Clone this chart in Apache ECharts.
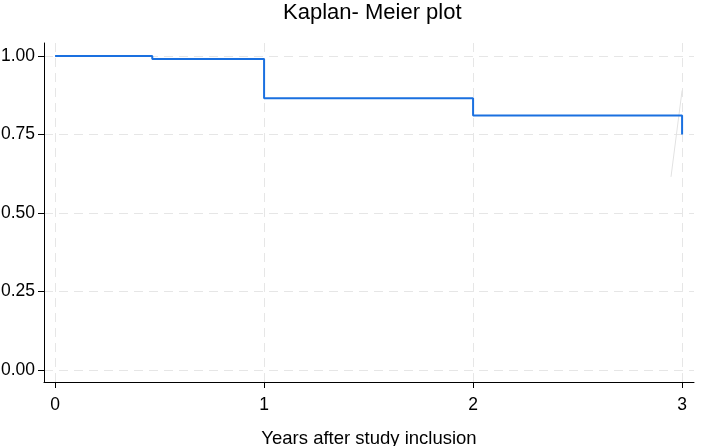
<!DOCTYPE html>
<html>
<head>
<meta charset="utf-8">
<script src="https://cdn.jsdelivr.net/npm/echarts@6/dist/echarts.min.js"></script>
<style>
  html, body { margin: 0; padding: 0; background: #fff; }
  #chart { width: 710px; height: 446px; }
</style>
</head>
<body>
<div id="chart"></div>
<script>
'use strict';
/* Kaplan-Meier survival curve */

var stepTimes = [0, 0.465, 1, 2, 3];
var survival = [1.0, 0.99, 0.865, 0.81, 0.75];
var xTicks = [0, 1, 2, 3];
var yTicks = [0, 0.25, 0.5, 0.75, 1];
// faint stray stroke near the last step in the original picture
var strayX = [2.947, 3.0];
var strayY = [0.615, 0.89];

var kmData = stepTimes.map(function(t, i) { return [t, survival[i]]; });
var strayData = strayX.map(function(t, i) { return [t, strayY[i]]; });

var font = 'Liberation Sans, Arial, sans-serif';
var gridStyle = { color: '#e6e6e6', width: 1, type: [9, 6] };

var chart = echarts.init(document.getElementById('chart'));
chart.setOption({
  animation: false,
  title: {
    text: 'Kaplan- Meier plot',
    left: 278,
    top: -3,
    textStyle: { fontFamily: font, fontSize: 22, fontWeight: 'normal', color: '#000' }
  },
  grid: { left: 44, right: 16, top: 43, bottom: 64, outerBoundsMode: 'none', containLabel: false },
  xAxis: {
    type: 'value',
    min: -0.053,
    max: 3.057,
    name: 'Years after study inclusion',
    nameLocation: 'middle',
    nameGap: 47,
    nameTextStyle: { fontFamily: font, fontSize: 18.5, color: '#000' },
    axisLine: { show: true, onZero: false, lineStyle: { color: '#000', width: 1 } },
    axisTick: { show: true, length: 6, customValues: xTicks, lineStyle: { color: '#000' } },
    axisLabel: {
      customValues: xTicks,
      margin: 14,
      fontFamily: font,
      fontSize: 17.5,
      color: '#000'
    },
    splitLine: { show: true, lineStyle: gridStyle }
  },
  yAxis: {
    type: 'value',
    min: -0.038,
    max: 1.041,
    axisLine: { show: true, onZero: false, lineStyle: { color: '#000', width: 1 } },
    axisTick: { show: true, length: 6, customValues: yTicks, lineStyle: { color: '#000' } },
    axisLabel: {
      customValues: yTicks,
      margin: 9,
      fontFamily: font,
      fontSize: 17.5,
      color: '#000',
      formatter: function(v) { return v.toFixed(2); }
    },
    splitLine: { show: true, lineStyle: gridStyle }
  },
  series: [{
    name: 'stray',
    type: 'line',
    data: strayData,
    symbol: 'none',
    silent: true,
    lineStyle: { color: '#e2e2e2', width: 1 },
    z: 1
  }, {
    name: 'Survivor function',
    type: 'line',
    step: 'end',
    data: kmData,
    symbol: 'none',
    lineStyle: { color: '#1a70e0', width: 2 },
    z: 3
  }]
});
</script>
</body>
</html>
